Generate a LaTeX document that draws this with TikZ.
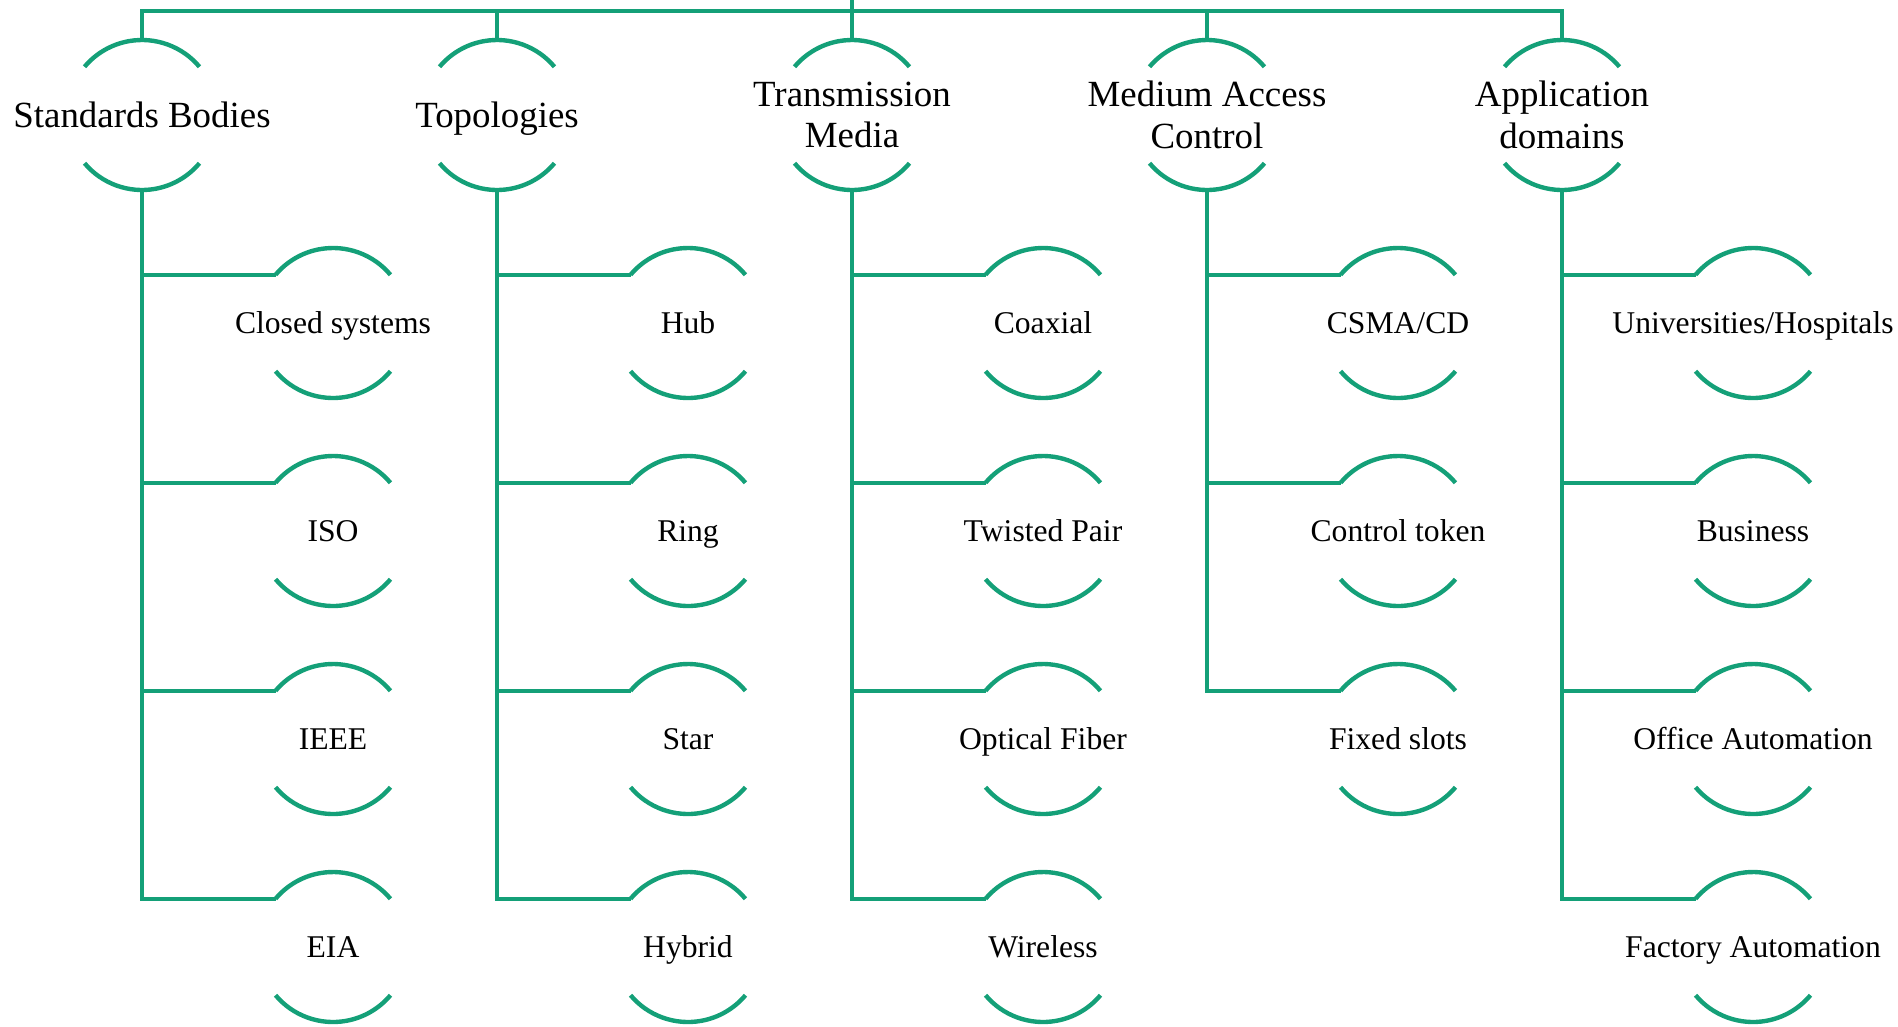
\documentclass[tikz,border=0pt]{standalone}
\usepackage{fontspec}
\setmainfont{Liberation Serif}
\usepackage{tikz}
\usetikzlibrary{trees}
\definecolor{netgreen}{RGB}{20,160,120}
\tikzset{link/.style = {draw=netgreen, line width=2.5pt},
         oneline/.style = {text height=18.5pt, text depth=4.6pt},
         subline/.style = {text height=15.8pt, text depth=4pt}}
\newcommand{\nodearcs}[1]{%
    \draw[link] ([shift={(40:1.5cm)}]#1.center) arc[start angle=40, end angle=140, radius=1.5cm];
    \draw[link] ([shift={(220:1.5cm)}]#1.center) arc[start angle=220, end angle=320, radius=1.5cm];}

\begin{document}
\begin{tikzpicture}[
        every node/.style = {shape=rectangle, align=center, inner sep=0pt},
        edge from parent/.style = {link},
        level 1/.style = {sibling distance=7.1cm, level distance=2.08cm,
                          font=\fontsize{21}{23.5}\selectfont,
                          edge from parent path={(\tikzparentnode) -| ([yshift=1.5cm]\tikzchildnode.center)}},
        level 2/.style = {grow via three points={one child at (3.82,-4.16) and two children at (3.82,-4.16) and (3.82,-8.32)},
                          font=\fontsize{18}{20}\selectfont, subline,
                          edge from parent path={([yshift=-1.5cm]\tikzparentnode.center) |- ([shift={(140:1.5cm)}]\tikzchildnode.center)}}]
    \useasboundingbox (0,0) rectangle (37.96,-20.52);
    \coordinate (top) at (17.04,0);
    \node[coordinate] (root) at (17.04,-0.22) {}
        child { node[oneline] (std) {Standards Bodies}
                child { node (std1) {Closed systems} }
                child { node (std2) {ISO} }
                child { node (std3) {IEEE} }
                child { node (std4) {EIA} } }
        child { node[oneline] (topo) {Topologies}
                child { node (topo1) {Hub} }
                child { node (topo2) {Ring} }
                child { node (topo3) {Star} }
                child { node (topo4) {Hybrid} } }
        child { node (media) {Transmission\\Media}
                child { node (media1) {Coaxial} }
                child { node (media2) {Twisted Pair} }
                child { node (media3) {Optical Fiber} }
                child { node (media4) {Wireless} } }
        child { node (mac) {Medium Access\\Control}
                child { node (mac1) {CSMA/CD} }
                child { node (mac2) {Control token} }
                child { node (mac3) {Fixed slots} } }
        child { node (app) {Application\\domains}
                child { node (app1) {Universities/Hospitals} }
                child { node (app2) {Business} }
                child { node (app3) {Office Automation} }
                child { node (app4) {Factory Automation} } } ;
    \draw[link] (root) -- (top);
    \foreach \n in {std,std1,std2,std3,std4,topo,topo1,topo2,topo3,topo4,
                    media,media1,media2,media3,media4,mac,mac1,mac2,mac3,
                    app,app1,app2,app3,app4}
        {\nodearcs{\n}}
\end{tikzpicture}
\end{document}
